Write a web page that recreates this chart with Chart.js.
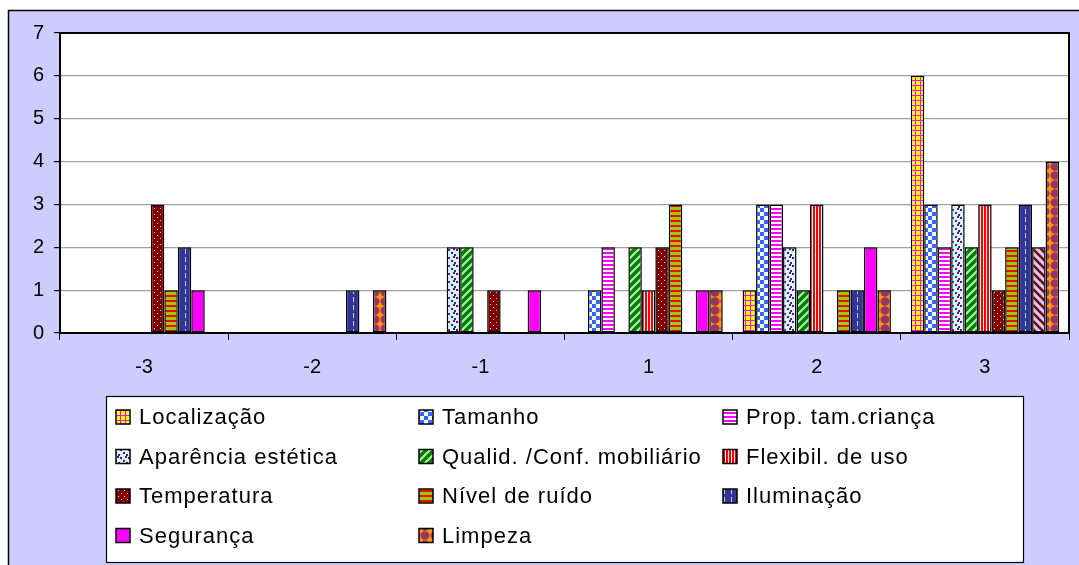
<!DOCTYPE html>
<html>
<head>
<meta charset="utf-8">
<script src="https://cdn.jsdelivr.net/npm/chart.js@4.4.1/dist/chart.umd.min.js"></script>
<style>
  body { margin: 0; background: #fff; }
  canvas { display: block; }
</style>
</head>
<body>
<canvas id="avaliacaoChart" width="1079" height="565"></canvas>
<script>
// categorias da escala de avaliação
const categories = ['-3', '-2', '-1', '1', '2', '3'];
const yTicks = [0, 1, 2, 3, 4, 5, 6, 7];

// número de respostas por item
const localizacao = [0, 0, 0, 0, 1, 6];
const tamanho = [0, 0, 0, 1, 3, 3];
const propTamCrianca = [0, 0, 0, 2, 3, 2];
const aparencia = [0, 0, 2, 0, 2, 3];
const qualidMobiliario = [0, 0, 2, 2, 1, 2];
const flexibilUso = [0, 0, 0, 1, 3, 3];
const temperatura = [3, 0, 1, 2, 0, 1];
const nivelRuido = [1, 0, 0, 3, 1, 2];
const iluminacao = [2, 1, 0, 0, 1, 3];
const seguranca = [1, 0, 1, 1, 2, 2];
const limpeza = [0, 1, 0, 1, 1, 4];

const FONT = "'Liberation Sans', Arial, sans-serif";

// padrões de preenchimento (estilo Excel)
function makePattern(w, h, paint) {
    const c = document.createElement('canvas');
    c.width = w;
    c.height = h;
    const g = c.getContext('2d');
    paint(g, w, h);
    return g.createPattern(c, 'repeat');
}

const patLocalizacao = makePattern(5, 5, (g) => {
    g.fillStyle = '#ffff00'; g.fillRect(0, 0, 5, 5);
    g.fillStyle = '#ff00ff'; g.fillRect(0, 0, 5, 1); g.fillRect(0, 0, 1, 5);
});
const patTamanho = makePattern(8, 8, (g) => {
    g.fillStyle = '#ffffff'; g.fillRect(0, 0, 8, 8);
    g.fillStyle = '#3366ff'; g.fillRect(0, 0, 4, 4); g.fillRect(4, 4, 4, 4);
});
const patProp = makePattern(4, 4, (g) => {
    g.fillStyle = '#ffffff'; g.fillRect(0, 0, 4, 4);
    g.fillStyle = '#ff00ff'; g.fillRect(0, 0, 4, 2);
});
const patAparencia = makePattern(8, 8, (g) => {
    g.fillStyle = '#ccffff'; g.fillRect(0, 0, 8, 8);
    g.fillStyle = '#800080';
    g.fillRect(0, 1, 2, 2); g.fillRect(5, 0, 2, 2);
    g.fillRect(3, 4, 2, 2); g.fillRect(6, 6, 2, 2);
});
const patQualid = makePattern(8, 8, (g) => {
    g.fillStyle = '#008000'; g.fillRect(0, 0, 8, 8);
    g.strokeStyle = '#b8f0b0'; g.lineWidth = 2;
    g.beginPath();
    g.moveTo(-2, 10); g.lineTo(10, -2);
    g.moveTo(-6, 6); g.lineTo(6, -6);
    g.moveTo(2, 14); g.lineTo(14, 2);
    g.stroke();
});
const patFlexibil = makePattern(3, 3, (g) => {
    g.fillStyle = '#ff0000'; g.fillRect(0, 0, 3, 3);
    g.fillStyle = '#ffffff'; g.fillRect(2, 0, 1, 3);
});
const patTemperatura = makePattern(6, 6, (g) => {
    g.fillStyle = '#800000'; g.fillRect(0, 0, 6, 6);
    g.fillStyle = '#ffd0d0'; g.fillRect(1, 1, 1, 1); g.fillRect(4, 4, 1, 1);
});
const patNivel = makePattern(5, 5, (g) => {
    g.fillStyle = '#99cc00'; g.fillRect(0, 0, 5, 5);
    g.fillStyle = '#ff0000'; g.fillRect(0, 0, 5, 2);
});
const patIluminacao = makePattern(7, 8, (g) => {
    g.fillStyle = '#333399'; g.fillRect(0, 0, 7, 8);
    g.fillStyle = '#a8e0d0'; g.fillRect(3, 1, 1, 5);
});
const corSeguranca = '#ff00ff';
const patSegurancaHatch = makePattern(8, 8, (g) => {
    g.fillStyle = '#ccccff'; g.fillRect(0, 0, 8, 8);
    g.strokeStyle = '#800000'; g.lineWidth = 2.5;
    g.beginPath();
    g.moveTo(-2, -2); g.lineTo(10, 10);
    g.moveTo(-6, 2); g.lineTo(6, 14);
    g.moveTo(2, -6); g.lineTo(14, 6);
    g.stroke();
});
const patLimpeza = makePattern(10, 9, (g) => {
    g.fillStyle = '#ff9900'; g.fillRect(0, 0, 10, 9);
    g.fillStyle = '#993366';
    g.beginPath(); g.ellipse(5, 4.5, 4.5, 4.2, 0, 0, Math.PI * 2); g.fill();
});

// o ponto "3" da Segurança tem preenchimento tracejado
const segurancaFill = categories.map(c => c === '3' ? patSegurancaHatch : corSeguranca);

const series = [
    { label: 'Localização', data: localizacao, fill: patLocalizacao },
    { label: 'Tamanho', data: tamanho, fill: patTamanho },
    { label: 'Prop. tam.criança', data: propTamCrianca, fill: patProp },
    { label: 'Aparência estética', data: aparencia, fill: patAparencia },
    { label: 'Qualid. /Conf. mobiliário', data: qualidMobiliario, fill: patQualid },
    { label: 'Flexibil. de uso', data: flexibilUso, fill: patFlexibil },
    { label: 'Temperatura', data: temperatura, fill: patTemperatura },
    { label: 'Nível de ruído', data: nivelRuido, fill: patNivel },
    { label: 'Iluminação', data: iluminacao, fill: patIluminacao },
    { label: 'Segurança', data: seguranca, fill: segurancaFill, legendFill: corSeguranca },
    { label: 'Limpeza', data: limpeza, fill: patLimpeza }
];

// fundo lilás, moldura e área de plotagem
const framePlugin = {
    id: 'frame',
    beforeDraw(chart) {
        const ctx = chart.ctx;
        const a = chart.chartArea;
        ctx.save();
        ctx.fillStyle = '#ffffff';
        ctx.fillRect(0, 0, chart.width, chart.height);
        ctx.fillStyle = '#ccccff';
        ctx.fillRect(8, 10, chart.width - 8, chart.height - 10);
        ctx.strokeStyle = '#000000';
        ctx.lineWidth = 1.5;
        ctx.beginPath();
        ctx.moveTo(8.5, chart.height);
        ctx.lineTo(8.5, 10.5);
        ctx.lineTo(chart.width, 10.5);
        ctx.stroke();
        ctx.fillStyle = '#ffffff';
        ctx.fillRect(a.left, a.top, a.right - a.left, a.bottom - a.top);
        ctx.restore();
    },
    beforeDatasetsDraw(chart) {
        const ctx = chart.ctx;
        const a = chart.chartArea;
        ctx.save();
        ctx.strokeStyle = '#000000';
        ctx.lineWidth = 2;
        ctx.strokeRect(a.left, a.top, a.right - a.left, a.bottom - a.top);
        ctx.restore();
    }
};

// legenda em três colunas dentro de uma caixa branca
const legendPlugin = {
    id: 'boxLegend',
    afterDraw(chart) {
        const ctx = chart.ctx;
        const colX = [116, 419, 723];
        const rowY = [417, 456.5, 496, 535.5];
        ctx.save();
        ctx.fillStyle = '#ffffff';
        ctx.fillRect(106, 396, 918, 167);
        ctx.strokeStyle = '#000000';
        ctx.lineWidth = 1.2;
        ctx.strokeRect(106.5, 396.5, 917, 166);
        ctx.font = '22px ' + FONT;
        ctx.letterSpacing = '1px';
        ctx.textBaseline = 'middle';
        series.forEach((s, i) => {
            const x = colX[i % 3];
            const y = rowY[Math.floor(i / 3)];
            ctx.fillStyle = s.legendFill || s.fill;
            ctx.fillRect(x, y - 7, 14, 14);
            ctx.strokeStyle = '#000000';
            ctx.lineWidth = 1.5;
            ctx.strokeRect(x, y - 7, 14, 14);
            ctx.fillStyle = '#000000';
            ctx.fillText(s.label, x + 23, y + 1);
        });
        ctx.restore();
    }
};

const ctx = document.getElementById('avaliacaoChart');
new Chart(ctx.getContext('2d'), {
    type: 'bar',
    data: {
        labels: categories,
        datasets: series.map(s => ({
            label: s.label,
            data: s.data,
            backgroundColor: s.fill,
            borderColor: '#000000',
            borderWidth: 1.5,
            borderSkipped: false,
            categoryPercentage: 0.882,
            barPercentage: 1.0
        }))
    },
    options: {
        responsive: false,
        animation: false,
        layout: { padding: { left: 8, right: 10, top: 33, bottom: 172 } },
        plugins: {
            legend: { display: false },
            tooltip: { enabled: false }
        },
        scales: {
            x: {
                offset: true,
                grid: {
                    offset: true,
                    drawOnChartArea: false,
                    tickLength: 7,
                    tickColor: '#000000',
                    lineWidth: 1
                },
                border: { color: '#000000', width: 1.5 },
                ticks: {
                    color: '#000000',
                    font: { family: FONT, size: 20 },
                    padding: 15,
                    maxRotation: 0
                },
                afterFit(scale) { scale.height = 60; }
            },
            y: {
                min: 0,
                max: yTicks[yTicks.length - 1],
                afterBuildTicks(scale) { scale.ticks = yTicks.map(v => ({ value: v })); },
                grid: {
                    color: '#a0a0a0',
                    tickColor: '#000000',
                    tickLength: 6,
                    lineWidth: 1.2
                },
                border: { color: '#000000', width: 1.5 },
                ticks: {
                    color: '#000000',
                    font: { family: FONT, size: 20 },
                    padding: 10
                },
                afterFit(scale) { scale.width = 52; }
            }
        }
    },
    plugins: [framePlugin, legendPlugin]
});
</script>
</body>
</html>
